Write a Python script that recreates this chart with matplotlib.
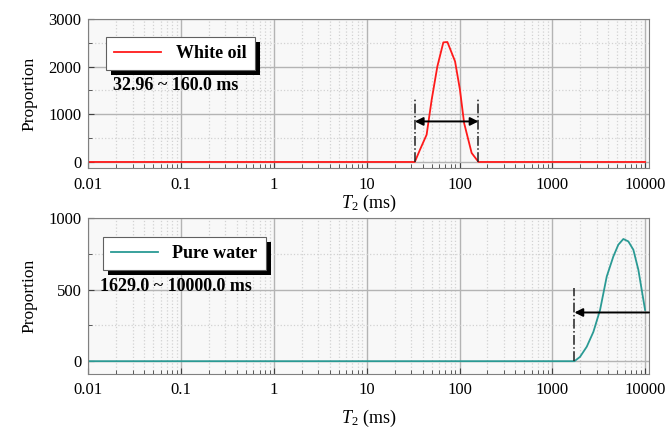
import numpy as np
import matplotlib.pyplot as plt
from matplotlib.patches import Rectangle
from matplotlib.ticker import LogLocator, MultipleLocator, FixedLocator

plt.rcParams['font.family'] = ['Liberation Serif', 'DejaVu Serif']
plt.rcParams['mathtext.fontset'] = 'custom'
plt.rcParams['mathtext.rm'] = 'Liberation Serif'
plt.rcParams['mathtext.it'] = 'Liberation Serif:italic'

# white oil T2 spectrum
oil_t2 = [0.01, 32.96, 37.5, 44.2, 50.1, 57.7, 66.9, 74.0, 89.5, 101, 112, 135, 160.0, 10000]
oil_amp = [0, 0, 258, 572, 1306, 2004, 2507, 2515, 2109, 1516, 817, 189, 0, 0]
oil_range = (32.96, 160.0)

# pure water T2 spectrum
water_t2 = [0.01, 1730, 1986, 2348, 2770, 3268, 3856, 4542, 5140, 5822, 6592, 7462, 8450, 9980]
water_amp = [0, 0, 30, 101, 205, 358, 591, 731, 813, 853, 836, 778, 638, 358]
water_cut = 1730

xticks = [0.01, 0.1, 1, 10, 100, 1000, 10000]
xticklabels = ['0.01', '0.1', '1', '10', '100', '1000', '10000']

fig = plt.figure(figsize=(6.71, 4.29), dpi=100)
ax1 = fig.add_axes([0.1316, 0.608, 0.8356, 0.348])
ax2 = fig.add_axes([0.1316, 0.128, 0.8356, 0.364])


def style(ax, ylim, major, minor):
    ax.set_facecolor('#f8f8f8')
    ax.set_xscale('log')
    ax.set_xlim(0.01, 11000)
    ax.set_ylim(*ylim)
    ax.xaxis.set_major_locator(FixedLocator(xticks))
    ax.set_xticklabels(xticklabels)
    ax.xaxis.set_minor_locator(LogLocator(base=10, subs=np.arange(2, 10), numticks=20))
    ax.yaxis.set_major_locator(MultipleLocator(major))
    ax.yaxis.set_minor_locator(MultipleLocator(minor))
    ax.grid(which='major', color='#b4b4b4', linestyle='-', linewidth=1.0)
    ax.grid(which='minor', color='#d2d2d2', linestyle=':', linewidth=0.9)
    ax.set_axisbelow(True)
    for s in ax.spines.values():
        s.set_color('#808080')
    ax.tick_params(which='both', direction='in', colors='#404040', labelcolor='black',
                   labelsize=12)
    ax.tick_params(which='major', length=4)
    ax.tick_params(which='minor', length=3)
    ax.tick_params(axis='x', pad=6)
    ax.tick_params(axis='y', pad=5)
    ax.set_ylabel('Proportion', fontsize=12.5, labelpad=8)


def legend_with_shadow(ax, anchor):
    leg = ax.legend(loc='upper left', bbox_to_anchor=anchor, borderaxespad=0,
                    fancybox=False, edgecolor='#606060', framealpha=1,
                    handlelength=2.6, borderpad=0.45,
                    prop={'weight': 'bold', 'size': 13})
    leg.get_frame().set_linewidth(0.8)
    return leg


style(ax1, (-130, 3000), 1000, 500)
ax1.plot(oil_t2, oil_amp, color='#ff1a1a', lw=1.3, label='White oil')
for v in oil_range:
    ax1.plot([v, v], [0, 1320], color='#202020', lw=1.1, ls='-.')
ax1.annotate('', xy=(oil_range[0], 850), xytext=(oil_range[1], 850),
             arrowprops=dict(arrowstyle='<|-|>', color='black', lw=1.4,
                             mutation_scale=12, shrinkA=0, shrinkB=0))
ax1.text(0.044, 0.552, '32.96 ~ 160.0 ms', transform=ax1.transAxes,
         fontsize=13, fontweight='bold', va='center', ha='left')
ax1.set_xlabel('$T_2$ (ms)', fontsize=13, labelpad=0)
leg1 = legend_with_shadow(ax1, (0.032, 0.879))

style(ax2, (-90, 1000), 500, 250)
ax2.plot(water_t2, water_amp, color='#2a9a94', lw=1.3, label='Pure water')
ax2.plot([water_cut, water_cut], [0, 510], color='#202020', lw=1.1, ls='-.')
ax2.annotate('', xy=(water_cut, 340), xytext=(11000, 340),
             arrowprops=dict(arrowstyle='-|>', color='black', lw=1.4,
                             mutation_scale=12, shrinkA=0, shrinkB=0))
ax2.text(0.021, 0.56, '1629.0 ~ 10000.0 ms', transform=ax2.transAxes,
         fontsize=13, fontweight='bold', va='center', ha='left')
ax2.set_xlabel('$T_2$ (ms)', fontsize=13, labelpad=7)
leg2 = legend_with_shadow(ax2, (0.026, 0.878))

# solid black drop shadows behind the legend boxes
fig.canvas.draw()
for ax, leg in ((ax1, leg1), (ax2, leg2)):
    bb = leg.get_frame().get_window_extent()
    sh = Rectangle((bb.x0 + 5, bb.y0 - 5), bb.width, bb.height, transform=None,
                   facecolor='black', edgecolor='none', zorder=leg.get_zorder() - 0.5)
    ax.add_artist(sh)

fig.savefig('out.png', dpi=100)
